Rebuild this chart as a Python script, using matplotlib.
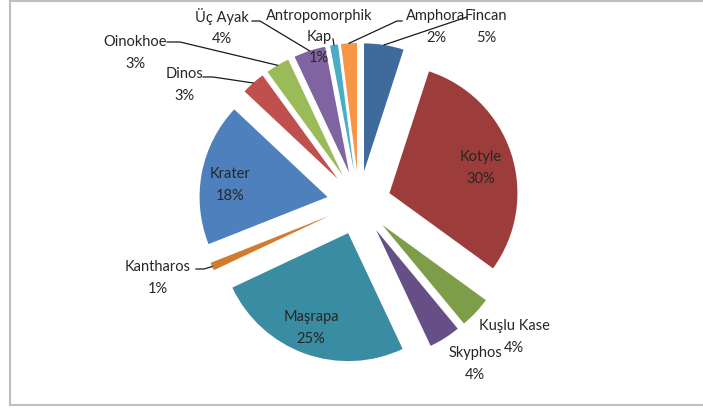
import matplotlib.pyplot as plt
from matplotlib.lines import Line2D
import numpy as np

plt.rcParams['font.family'] = ['Lato', 'DejaVu Sans']

# slices, clockwise from 12 o'clock
names = ['Fincan', 'Kotyle', 'Kuşlu Kase', 'Skyphos', 'Maşrapa', 'Kantharos',
         'Krater', 'Dinos', 'Oinokhoe', 'Üç Ayak', 'Antropomorphik\nKap', 'Amphora']
percents = [5, 30, 4, 4, 25, 1, 18, 3, 3, 4, 1, 2]
colors = ['#3E6A9C', '#9C3D3B', '#7E9D48', '#664F87', '#3A8CA2', '#D27B2F',
          '#4E80BD', '#C0504D', '#9BBB59', '#8064A2', '#4BACC6', '#F79646']

W, H = 703, 410
R = 128


def px(x, y):
    # pixel (top-left origin) -> data coords
    return x, H - y


# label layout in pixels: text centre, leader points (elbow, end) or None
label_pos = {
    'Fincan': ((486, 27), [(467, 18)]),
    'Kotyle': ((481, 168), None),
    'Kuşlu Kase': ((514, 337), None),
    'Skyphos': ((475, 364), None),
    'Maşrapa': ((311, 328), None),
    'Kantharos': ((158, 278), [(204, 270), (196, 270)]),
    'Krater': ((230, 185), None),
    'Dinos': ((184, 85), [(213, 78), (203, 78)]),
    'Oinokhoe': ((135, 53), [(180, 43), (167, 43)]),
    'Üç Ayak': ((222, 27), [(260, 22), (252, 22)]),
    'Antropomorphik\nKap': ((319, 37), [(333, 40)]),
    'Amphora': ((436, 27), [(397, 22), (402, 22)]),
}

fig = plt.figure(figsize=(W / 100, H / 100), dpi=100)
ax = fig.add_axes([0, 0, 1, 1])

# explode is an absolute offset when radius != 1
wedges, _ = ax.pie(percents, colors=colors, startangle=90, counterclock=False,
                   explode=[0.25 * R] * len(percents), radius=R,
                   center=px(359, 204),
                   wedgeprops=dict(edgecolor='none'))
ax.set_xlim(0, W)
ax.set_ylim(0, H)
ax.set_aspect('equal')
ax.axis('off')

for w, name, p in zip(wedges, names, percents):
    (tx, ty), leader = label_pos[name]
    ax.text(*px(tx, ty), f'{name}\n{p}%', ha='center', va='center',
            fontsize=10.5, color='#262626', linespacing=1.65)
    if leader:
        mid = np.deg2rad((w.theta1 + w.theta2) / 2)
        cx, cy = w.center
        start = (cx + w.r * np.cos(mid), cy + w.r * np.sin(mid))
        pts = [start] + [px(x, y) for x, y in leader]
        ax.plot([q[0] for q in pts], [q[1] for q in pts],
                color='#1a1a1a', lw=0.9)

# chart border
bc = '#BFBFBF'
fig.add_artist(Line2D([10 / W, 10 / W], [1 - 1 / H, 1 - 406 / H],
                      transform=fig.transFigure, color=bc, lw=1.5))
fig.add_artist(Line2D([10 / W, 1], [1 - 1.5 / H, 1 - 1.5 / H],
                      transform=fig.transFigure, color=bc, lw=1.5))
fig.add_artist(Line2D([10 / W, 1], [1 - 406 / H, 1 - 406 / H],
                      transform=fig.transFigure, color=bc, lw=1.5))

fig.savefig('out.png', dpi=100)
